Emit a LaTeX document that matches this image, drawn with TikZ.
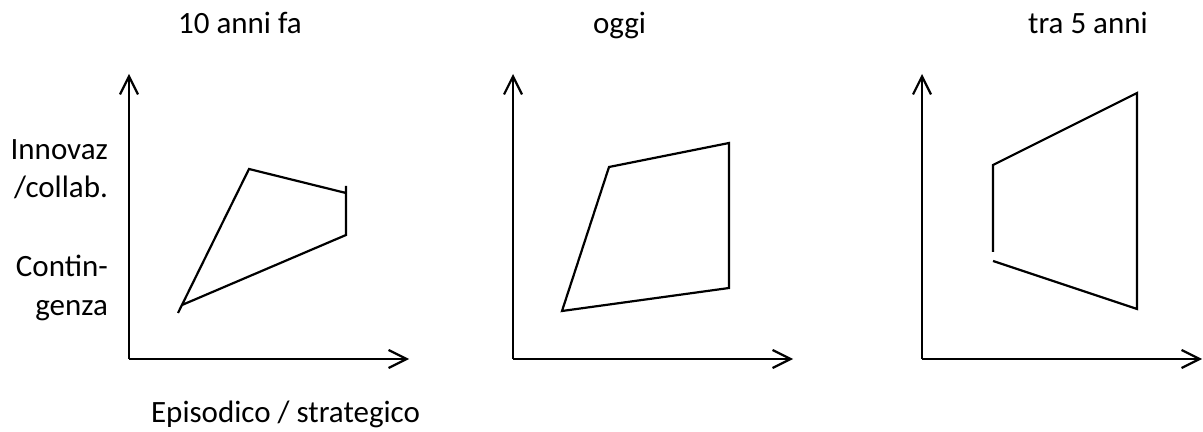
\documentclass[tikz,border=0pt]{standalone}
\usepackage{fontspec}
\setmainfont{Carlito}
\usetikzlibrary{arrows.meta}

\begin{document}
\begin{tikzpicture}[x=.5pt,y=-.5pt,line width=1.1pt,font=\fontsize{15.5}{19}\selectfont,
 axis/.style={-{Straight Barb[length=9pt,width=9pt]}},
 lbl/.style={inner sep=0pt}]
 \useasboundingbox (0,0) rectangle (1203,432);
 % titles
 \node[lbl,anchor=base west] (past) at (177,34) {10 anni fa};
 \node[lbl,anchor=base west] (now) at (592,34) {oggi};
 \node[lbl,anchor=base west] (future) at (1027,34) {tra 5 anni};
 % y labels
 \node[lbl,anchor=base east] (inno) at (109,160) {Innovaz};
 \node[lbl,anchor=base east] (coll) at (109,198) {/collab.};
 \node[lbl,anchor=base east] (cont) at (109,277) {Contin-};
 \node[lbl,anchor=base east] (genz) at (109,315) {genza};
 \node[lbl,anchor=base west] (xlbl) at (150,422) {Episodico / strategico};
 % axes
 \draw[axis] (129,359)--(129,74); \draw[axis] (129,359)--(409,359);
 \draw[axis] (513,359)--(513,74); \draw[axis] (513,359)--(793,359);
 \draw[axis] (922,359)--(922,74); \draw[axis] (922,359)--(1202,359);
 % shapes
 \draw (178,313)--(249,169)--(346,193) (346,186)--(346,235)--(182,305);
 \draw (562,311)--(609,167)--(729,143)--(729,288)--cycle;
 \draw (993,252)--(993,165)--(1137,93)--(1137,309)--(993,261);
\end{tikzpicture}
\end{document}
